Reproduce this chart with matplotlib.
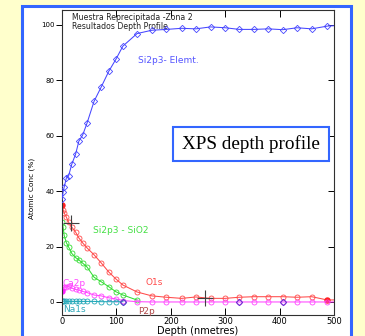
import matplotlib
matplotlib.use('Agg')
import matplotlib.pyplot as plt
from matplotlib.patches import Rectangle

# profundidad de cada paso de decapado (nm)
depth = [0, 2, 4, 8, 12, 18, 25, 31, 38, 46, 59, 72, 86, 99, 112, 138,
         165, 192, 220, 246, 273, 300, 326, 353, 379, 406, 432, 459, 488, 515]

si_elem = [37.0, 39.6, 41.4, 44.7, 45.4, 49.7, 53.3, 58.0, 60.2, 64.5,
           72.4, 77.5, 83.2, 87.5, 92.3, 96.8, 98.0, 98.3, 98.7, 98.5,
           99.2, 98.9, 98.3, 98.3, 98.5, 98.2, 98.9, 98.5, 99.5, 99.8]
o1s = [35.0, 33.3, 32.1, 30.6, 28.8, 27.0, 25.2, 23.1, 21.3, 19.5,
       17.0, 14.1, 10.8, 8.3, 6.1, 3.6, 2.2, 1.7, 1.3, 1.8,
       1.3, 1.3, 1.7, 1.9, 1.9, 1.9, 1.7, 1.9, 0.7, 0.8]
si_oxide = [29.0, 27.0, 24.0, 21.4, 19.9, 17.5, 16.0, 15.2, 14.0, 12.6,
            8.9, 7.3, 5.5, 3.7, 2.5, 0.7]
ca2p = [4.0, 5.0, 5.4, 5.4, 5.6, 5.0, 4.5, 4.3, 3.8, 3.4,
        2.5, 2.2, 1.5, 1.1, 0.5, 0.1, 0.0, 0.0, 0.0, 0.0,
        0.0, 0.0, 0.0, 0.0, 0.0, 0.0, 0.0, 0.0, 0.0, 0.0]
na1s = [0.3, 0.3, 0.3, 0.2, 0.2, 0.2, 0.2, 0.2, 0.2, 0.2,
        0.2, 0.1, 0.1, 0.1, 0.1]
p2p_depth = [112, 326, 406]
p2p = [0.0, 0.0, 0.0]

# cursores del programa de adquisición
cursor_x = [16.5, 263]
cursor_y = [28.5, 1.6]

fig = plt.figure(figsize=(3.65, 3.36), dpi=100)
fig.patch.set_facecolor('#ffffcc')
fig.patches.append(Rectangle((22/365, -0.02), 329/365, 1.02 - 6/336,
                             transform=fig.transFigure, facecolor='white',
                             edgecolor='#3366ff', lw=2.2, zorder=-1))

ax = fig.add_axes([62/365, 21/336, 272/365, 305/336])
ax.set_zorder(1)
ax.patch.set_alpha(0)
ax.set_xlim(0, 500)
ax.set_ylim(-4.7, 105.3)

kw = dict(lw=0.75, ms=3.6, mew=0.6, mfc='none')
ax.plot(depth, si_elem, color='#4646ff', marker='D', ms=3.2, lw=0.75,
        mew=0.6, mfc='none', zorder=5)
ax.plot(depth[:len(si_oxide)], si_oxide, color='#33dd33', marker='o', **kw)
ax.plot(depth, o1s, color='#ff4a4a', marker='o', markevery=range(1, 28), **kw)
ax.plot(depth[:1] + depth[28:29], [o1s[0], o1s[28]], ls='none', marker='o',
        ms=3.6, color='#ff2020')
ax.plot(depth, ca2p, color='#ff44ff', marker='o', markevery=range(1, 29), **kw)
ax.plot(depth[:1], ca2p[:1], ls='none', marker='o', ms=3.6, color='#ff22ff')
ax.plot(depth[:len(na1s)], na1s, color='#22a8b8', marker='o', **kw)
ax.plot(p2p_depth, p2p, ls='none', marker='D', ms=3.2, mew=0.8,
        color='#6a3ad0', mfc='none', zorder=6)
ax.plot(cursor_x, cursor_y, ls='none', marker='+', ms=12, mew=0.8,
        color='#404040', zorder=7)

lab = dict(fontsize=6.5, va='center', ha='left')
ax.text(139.7, 87.2, 'Si2p3- Elemt.', color='#5555ff', **lab)
ax.text(57, 25.9, 'Si2p3 - SiO2', color='#44e044', **lab)
ax.text(152.6, 7.1, 'O1s', color='#ff4a4a', **lab)
ax.text(1.8, 6.7, 'Ca2p', color='#ff44ff', **lab)
ax.text(1.8, -2.6, 'Na1s', color='#30a8b8', **lab)
ax.text(140, -3.6, 'P2p', color='#b04848', **lab)
ax.text(18.4, 100.9, 'Muestra Reprecipitada -Zona 2\nResultados Depth Profile',
        fontsize=5.6, linespacing=0.95, va='center', ha='left',
        color='#202020')

ax.set_xticks([0, 100, 200, 300, 400, 500])
ax.set_yticks([0, 20, 40, 60, 80, 100])
ax.tick_params(axis='x', direction='in', top=True, length=5, width=0.7,
               labelsize=6, pad=1.5)
ax.tick_params(axis='y', direction='out', length=4, width=0.7,
               labelsize=5, pad=1.5)
sec = ax.secondary_yaxis('right')
sec.set_yticks([0, 20, 40, 60, 80, 100])
sec.tick_params(direction='in', length=4, width=0.7, labelright=False)
sec.spines['right'].set_visible(False)
for s in ax.spines.values():
    s.set_linewidth(0.8)
    s.set_color('#303030')

ax.set_xlabel('Depth (nmetres)', fontsize=7, labelpad=0)
fig.text(32/365, 1 - 188/336, 'Atomic Conc (%)', rotation=90, fontsize=5.3,
         ha='center', va='center')

# recuadro del título
fig.patches.append(Rectangle((173/365, 1 - 161/336), 156/365, 34/336,
                             transform=fig.transFigure, facecolor='white',
                             edgecolor='#3366ff', lw=1.5, zorder=3))
fig.text(251/365, 1 - 144/336, 'XPS depth profile', fontsize=13.8,
         family='Liberation Serif', ha='center', va='center', zorder=4)

fig.savefig('out.png', dpi=100)
